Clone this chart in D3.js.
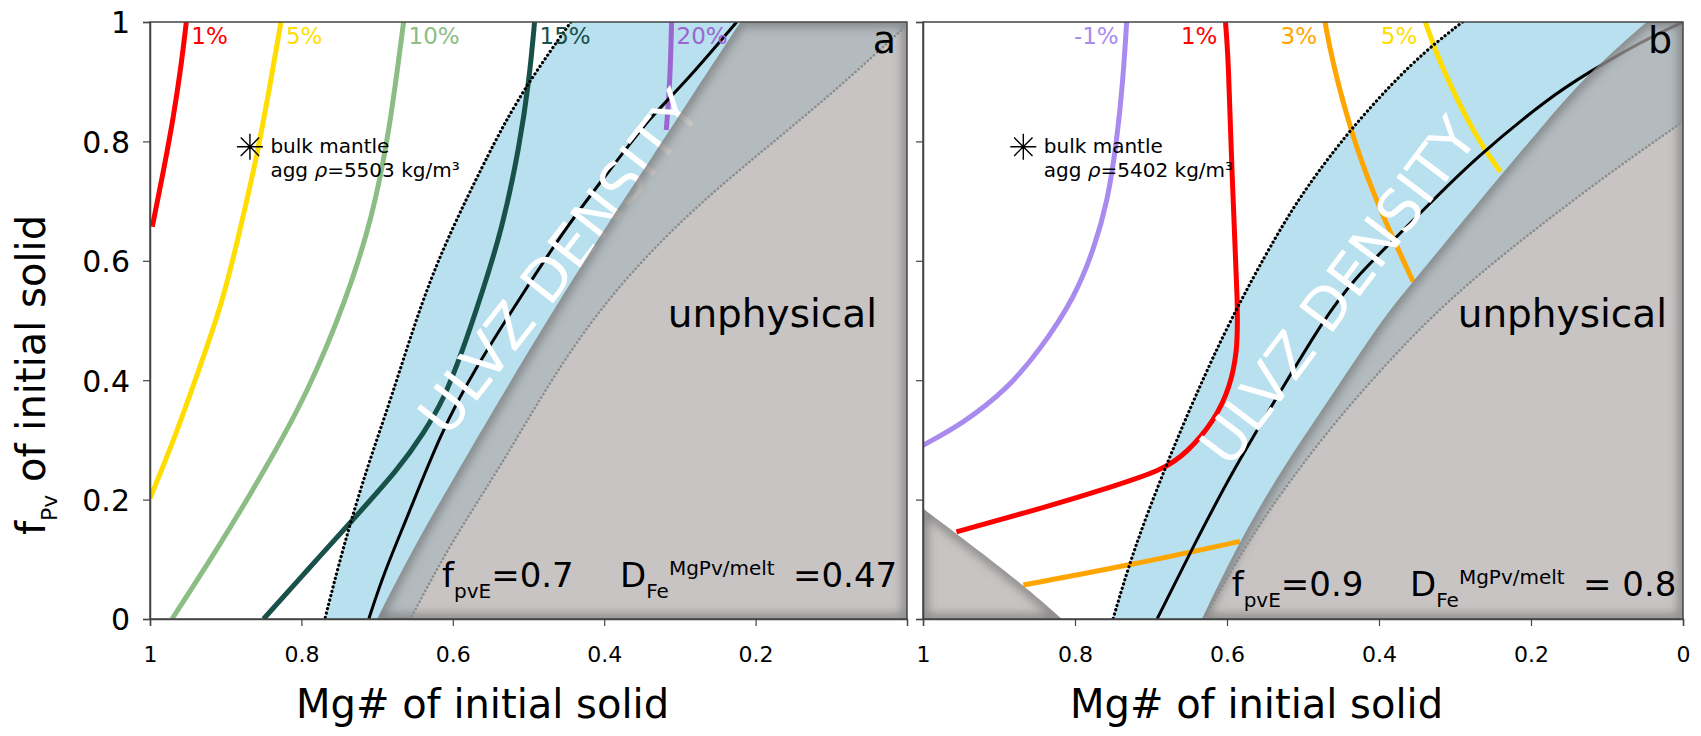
<!DOCTYPE html>
<html>
<head>
<meta charset="utf-8">
<script src="https://cdn.jsdelivr.net/npm/d3@7"></script>
<style>
  body { margin:0; background:#fff; }
  svg { display:block; }
  text { font-family: "DejaVu Sans", Verdana, sans-serif; white-space: pre; }
</style>
</head>
<body>
<svg id="chart" width="1701" height="736"></svg>
<script>
// ---------------- DATA (Mg#, fPv) ----------------
const yTickValues = [0, 0.2, 0.4, 0.6, 0.8, 1];
const yTickLabels = ["0", "0.2", "0.4", "0.6", "0.8", "1"];
const xTickValuesA = [1, 0.8, 0.6, 0.4, 0.2];
const xTickLabelsA = ["1", "0.8", "0.6", "0.4", "0.2"];
const xTickValuesB = [1, 0.8, 0.6, 0.4, 0.2, 0];
const xTickLabelsB = ["1", "0.8", "0.6", "0.4", "0.2", "0"];

// panel a contours
const aRed1 = [[0.952,1],[0.959,0.925],[0.969,0.841],[0.981,0.758],[0.997,0.657]];
const aYellow5 = [[0.827,1],[0.841,0.897],[0.859,0.774],[0.877,0.674],[0.903,0.534],[0.934,0.423],[0.965,0.311],[1.0,0.202]];
const aGreen10 = [[0.665,1],[0.684,0.814],[0.706,0.674],[0.740,0.537],[0.792,0.378],[0.846,0.255],[0.906,0.127],[0.971,0]];
const aTeal15 = [[0.492,1],[0.499,0.903],[0.512,0.791],[0.535,0.652],[0.563,0.540],[0.587,0.45],[0.612,0.367],[0.639,0.311],[0.669,0.255],[0.740,0.155],[0.790,0.085],[0.850,0]];
const aPurple20 = [[0.311,1],[0.313,0.9],[0.318,0.819]];
const aBlackDotted = [[0.444,1],[0.498,0.903],[0.532,0.830],[0.559,0.763],[0.602,0.652],[0.640,0.537],[0.682,0.367],[0.713,0.255],[0.745,0.12],[0.769,0]];
const aBlackSolid = [[0.225,1],[0.294,0.897],[0.339,0.841],[0.386,0.763],[0.453,0.652],[0.510,0.540],[0.572,0.417],[0.616,0.311],[0.660,0.171],[0.691,0.077],[0.711,0]];
const aGreyEdge = [[0.220,1],[0.290,0.865],[0.339,0.769],[0.386,0.680],[0.456,0.540],[0.523,0.400],[0.603,0.227],[0.656,0.110],[0.700,0]];
const aGreyDotted = [[0.0,0.995],[0.09,0.89],[0.185,0.79],[0.29,0.68],[0.395,0.54],[0.471,0.400],[0.537,0.255],[0.603,0.127],[0.656,0]];

// panel b contours
const bPurpleM1 = [[0.732,1],[0.737,0.9],[0.745,0.8],[0.757,0.70],[0.775,0.62],[0.801,0.537],[0.846,0.451],[0.890,0.384],[0.947,0.328],[1.0,0.291]];
const bRed1 = [[0.602,1],[0.598,0.935],[0.594,0.752],[0.585,0.512],[0.587,0.445],[0.596,0.389],[0.616,0.333],[0.653,0.278],[0.684,0.250],[0.750,0.222],[0.837,0.188],[0.956,0.146]];
const bOrange3Upper = [[0.471,1],[0.462,0.936],[0.434,0.802],[0.399,0.685],[0.355,0.565]];
const bOrange3Lower = [[0.868,0.057],[0.728,0.090],[0.583,0.130]];
const bYellow5 = [[0.339,1],[0.322,0.936],[0.271,0.802],[0.240,0.749]];
const bBlackDotted = [[0.29,1],[0.355,0.936],[0.439,0.819],[0.495,0.724],[0.534,0.646],[0.596,0.501],[0.643,0.37],[0.682,0.252],[0.723,0.116],[0.750,0]];
const bBlackSolid = [[0,1],[0.061,0.963],[0.122,0.917],[0.175,0.875],[0.276,0.769],[0.333,0.696],[0.381,0.635],[0.434,0.568],[0.473,0.501],[0.526,0.389],[0.592,0.250],[0.649,0.110],[0.692,0]];
const bGreyEdge = [[0.048,1],[0.122,0.917],[0.175,0.841],[0.267,0.702],[0.355,0.565],[0.394,0.506],[0.460,0.378],[0.526,0.255],[0.583,0.132],[0.633,0]];
const bGreyDotted = [[0,0.833],[0.085,0.758],[0.173,0.674],[0.257,0.59],[0.338,0.5],[0.438,0.361],[0.507,0.25],[0.569,0.138],[0.631,0]];
const bTriangle = [[1,0.185],[0.956,0.143],[0.868,0.057],[0.8175,0]];

const bulkMantle = [0.868, 0.791];
const bulkTextA = "agg ρ=5503 kg/m³";
const bulkTextB = "agg ρ=5402 kg/m³";

// ---------------- SETUP ----------------
const svg = d3.select("#chart");
const y = d3.scaleLinear().domain([0, 1]).range([619, 22]);
const defs = svg.append("defs");
defs.append("filter").attr("id", "blur").attr("x", "-20%").attr("y", "-20%")
  .attr("width", "140%").attr("height", "140%")
  .append("feGaussianBlur").attr("stdDeviation", 5);

const BLUE = "#b8e0ee";
const GREY = "rgb(178,172,172)";
const GREY_OP = 0.71;

const panels = [
  {
    id: "a", x: d3.scaleLinear().domain([1, 0]).range([150, 907]),
    xt: xTickValuesA, xl: xTickLabelsA, ylabels: true,
    blueLeft: aBlackDotted, blueRight: aGreyDotted, blueCorner: [[0,1]],
    greyEdge: aGreyEdge, greyDotted: aGreyDotted, blackSolid: aBlackSolid, blackDotted: aBlackDotted,
    triangle: null,
    contours: [
      {d: aRed1, c: "#ff0000", label: "1%"},
      {d: aYellow5, c: "#ffdd00", label: "5%"},
      {d: aGreen10, c: "#8bbd85", label: "10%"},
      {d: aTeal15, c: "#17514a", label: "15%"},
      {d: aPurple20, c: "#9b66d2", label: "20%"}
    ],
    labelSide: "right",
    ulvz: {pos: [0.460, 0.598], angle: -52},
    bulkText: bulkTextA,
    ann: {fx: 442, dx: 620, ex: 793, base: 587, fv: "=0.7", ev: "=0.47"},
    letter: "a",
    titleX: 296
  },
  {
    id: "b", x: d3.scaleLinear().domain([1, 0]).range([923, 1683]),
    xt: xTickValuesB, xl: xTickLabelsB, ylabels: false,
    blueLeft: bBlackDotted, blueRight: bGreyDotted, blueCorner: [[0,1]],
    greyEdge: bGreyEdge, greyDotted: bGreyDotted, blackSolid: bBlackSolid, blackDotted: bBlackDotted,
    triangle: bTriangle,
    contours: [
      {d: bPurpleM1, c: "#a98bf0", label: "-1%"},
      {d: bRed1, c: "#ff0000", label: "1%"},
      {d: bOrange3Upper, c: "#ffa500", label: "3%"},
      {d: bOrange3Lower, c: "#ffa500", label: null},
      {d: bYellow5, c: "#ffdd00", label: "5%"}
    ],
    labelSide: "left",
    ulvz: {pos: [0.454, 0.55], angle: -53},
    bulkText: bulkTextB,
    ann: {fx: 1231.7, dx: 1410, ex: 1583, base: 596, fv: "=0.9", ev: "= 0.8"},
    letter: "b",
    titleX: 1070
  }
];

panels.forEach(p => {
  const x = p.x;
  const x0 = x.range()[0], x1 = x.range()[1];
  const line = d3.line().x(d => x(d[0])).y(d => y(d[1])).curve(d3.curveBasis);
  const cont = (pts) => line(pts).replace(/^M/, "L");

  defs.append("clipPath").attr("id", "clip-" + p.id)
    .append("rect").attr("x", x0).attr("y", y(1)).attr("width", x1 - x0).attr("height", y(0) - y(1));

  const g = svg.append("g").attr("clip-path", `url(#clip-${p.id})`);

  // blue band: black dotted (bottom->top), top-right corner, grey dotted (top->bottom)
  const left = p.blueLeft.slice().reverse();
  let bandD = line(left);
  p.blueCorner.forEach(c => { bandD += `L${x(c[0])},${y(c[1])}`; });
  bandD += cont(p.blueRight) + "Z";
  g.append("path").attr("d", bandD).attr("fill", BLUE);

  // contour lines
  p.contours.forEach(c => {
    g.append("path").attr("d", line(c.d)).attr("fill", "none")
      .attr("stroke", c.c).attr("stroke-width", 5).attr("stroke-linecap", "butt");
  });

  // black dotted + black solid
  g.append("path").attr("d", line(p.blackDotted)).attr("fill", "none")
    .attr("stroke", "#000").attr("stroke-width", 3.2).attr("stroke-linecap", "round")
    .attr("stroke-dasharray", "0.1 4.4");
  g.append("path").attr("d", line(p.blackSolid)).attr("fill", "none")
    .attr("stroke", "#000").attr("stroke-width", 3);

  // ULVZ DENSITY
  const ux = x(p.ulvz.pos[0]), uy = y(p.ulvz.pos[1]);
  g.append("text").attr("transform", `translate(${ux},${uy}) rotate(${p.ulvz.angle})`)
    .attr("text-anchor", "middle").attr("dy", "0.36em")
    .attr("font-size", 58).attr("fill", "#fff").text("ULVZ DENSITY");

  // grey unphysical regions
  const greyD = line(p.greyEdge) + `L${x(0)},${y(0)}L${x(0)},${y(1)}Z`;
  const regions = [greyD];
  if (p.triangle) {
    regions.push(line(p.triangle) + `L${x(1)},${y(0)}Z`);
  }
  regions.forEach((rd, i) => {
    const cid = `grey-${p.id}-${i}`;
    defs.append("clipPath").attr("id", cid).append("path").attr("d", rd);
    g.append("path").attr("d", rd).attr("fill", GREY).attr("fill-opacity", GREY_OP);
    g.append("g").attr("clip-path", `url(#${cid})`)
      .append("path").attr("d", rd).attr("fill", "none")
      .attr("stroke", "#555").attr("stroke-opacity", 0.55).attr("stroke-width", 10)
      .attr("filter", "url(#blur)");
  });

  // grey dotted line
  g.append("path").attr("d", line(p.greyDotted)).attr("fill", "none")
    .attr("stroke", "#8c8c8c").attr("stroke-width", 2.6).attr("stroke-linecap", "round")
    .attr("stroke-dasharray", "0.1 4");

  // contour labels
  p.contours.filter(c => c.label).forEach(c => {
    const top = c.d[0];
    const lx = x(top[0]) + (p.labelSide === "right" ? 5 : -8);
    svg.append("text").attr("x", lx).attr("y", 44)
      .attr("text-anchor", p.labelSide === "right" ? "start" : "end")
      .attr("font-size", 23).attr("fill", c.c).text(c.label);
  });

  // bulk mantle star
  const sx = x(bulkMantle[0]), sy = y(bulkMantle[1]);
  const r = 13;
  let starD = "";
  [0, 45, 90, 135].forEach(a => {
    const rad = a * Math.PI / 180;
    starD += `M${sx - r * Math.cos(rad)},${sy - r * Math.sin(rad)}L${sx + r * Math.cos(rad)},${sy + r * Math.sin(rad)}`;
  });
  svg.append("path").attr("d", starD).attr("stroke", "#000").attr("stroke-width", 1.4).attr("fill", "none");
  svg.append("circle").attr("cx", sx).attr("cy", sy).attr("r", 2).attr("fill", "#000");
  svg.append("text").attr("x", sx + 20.5).attr("y", sy + 6).attr("font-size", 20).attr("fill", "#000").text("bulk mantle");
  const bt = svg.append("text").attr("x", sx + 20.5).attr("y", sy + 30).attr("font-size", 20).attr("fill", "#000");
  const parts = p.bulkText.split("ρ");
  bt.append("tspan").text(parts[0]);
  bt.append("tspan").attr("font-style", "italic").text("ρ");
  bt.append("tspan").text(parts[1]);

  // unphysical + panel letter
  svg.append("text").attr("x", p.id === "a" ? 877 : 1667).attr("y", 327)
    .attr("text-anchor", "end").attr("font-size", 39).attr("fill", "#000").text("unphysical");
  svg.append("text").attr("x", x1 - 11).attr("y", 53).attr("text-anchor", "end")
    .attr("font-size", 38).attr("fill", "#000").text(p.letter);

  // annotation
  const A = p.ann;
  const t1 = svg.append("text").attr("x", A.fx).attr("y", A.base).attr("font-size", 34).attr("fill", "#000");
  t1.append("tspan").text("f");
  t1.append("tspan").attr("font-size", 20).attr("dy", 11).text("pvE");
  t1.append("tspan").attr("dy", -11).text(A.fv);
  const t2 = svg.append("text").attr("x", A.dx).attr("y", A.base).attr("font-size", 34).attr("fill", "#000");
  t2.append("tspan").text("D");
  t2.append("tspan").attr("font-size", 20).attr("dy", 11).text("Fe");
  t2.append("tspan").attr("font-size", 20).attr("dy", -23).text("MgPv/melt");
  t2.append("tspan").attr("x", A.ex).attr("dy", 12).text(A.ev);

  // frame
  svg.append("rect").attr("x", x0).attr("y", y(1)).attr("width", x1 - x0).attr("height", y(0) - y(1))
    .attr("fill", "none").attr("stroke", "#444").attr("stroke-width", 1.5);

  // axes
  const xAxis = d3.axisBottom(x).tickValues(p.xt).tickSize(7)
    .tickFormat((d, i) => p.xl[i]);
  const xg = svg.append("g").attr("transform", `translate(0,${y(0)})`).call(xAxis);
  xg.select(".domain").attr("stroke", "#444").attr("stroke-width", 1.5);
  xg.selectAll(".tick line").attr("stroke", "#444").attr("stroke-width", 1.2);
  xg.selectAll(".tick text").attr("font-family", "DejaVu Sans, Verdana, sans-serif")
    .attr("font-size", 22).attr("fill", "#000").attr("dy", null).attr("y", 43);

  const yAxis = d3.axisLeft(y).tickValues(yTickValues).tickSize(7)
    .tickFormat((d, i) => p.ylabels ? yTickLabels[i] : "");
  const yg = svg.append("g").attr("transform", `translate(${x0},0)`).call(yAxis);
  yg.select(".domain").attr("stroke", "#444").attr("stroke-width", 1.5);
  yg.selectAll(".tick line").attr("stroke", "#444").attr("stroke-width", 1.2);
  yg.selectAll(".tick text").attr("font-family", "DejaVu Sans, Verdana, sans-serif")
    .attr("font-size", 30).attr("fill", "#000").attr("x", -20).attr("dy", "0.36em");

  // x title
  svg.append("text").attr("x", p.titleX).attr("y", 718).attr("font-size", 40).attr("fill", "#000")
    .text("Mg# of initial solid");
});

// y title
const yt = svg.append("text").attr("transform", "translate(45,535) rotate(-90)")
  .attr("font-size", 40).attr("fill", "#000");
yt.append("tspan").text("f");
yt.append("tspan").attr("font-size", 22).attr("dy", 12).text("Pv");
yt.append("tspan").attr("dy", -12).text(" of initial solid");
</script>
</body>
</html>
